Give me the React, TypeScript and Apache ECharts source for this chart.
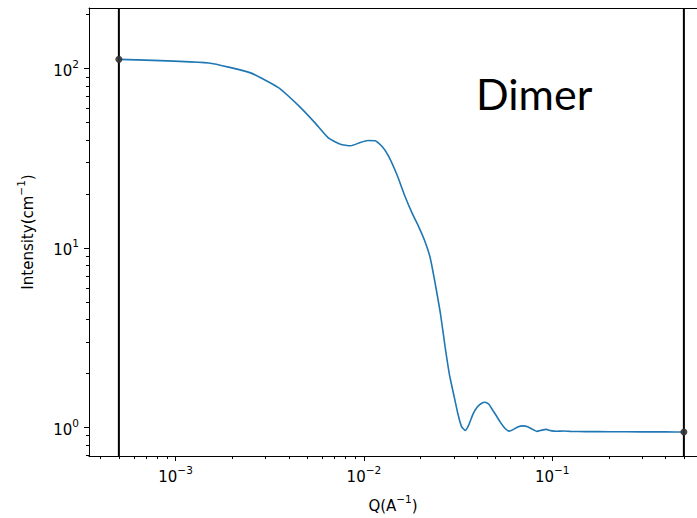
import React, { useEffect, useRef } from 'react';
import * as echarts from 'echarts';

// Scattering curve (Q in A^-1, intensity in cm^-1)
const qValues = [
  0.0005, 0.0015, 0.0025, 0.0035, 0.0045, 0.0055, 0.0065, 0.0075, 0.0085, 0.0095,
  0.0105, 0.0115, 0.0125, 0.0135, 0.015, 0.0165, 0.018, 0.0195, 0.021, 0.0225,
  0.024, 0.0255, 0.027, 0.0285, 0.03, 0.0315, 0.033, 0.0345, 0.036, 0.038,
  0.04, 0.042, 0.044, 0.046, 0.048, 0.05, 0.053, 0.056, 0.059, 0.062,
  0.066, 0.07, 0.074, 0.078, 0.083, 0.088, 0.093, 0.098, 0.105, 0.115,
  0.125, 0.15, 0.2, 0.3, 0.4, 0.5,
];
const intensity = [
  112.5, 107.4, 94.6, 78.5, 62.1, 49.8, 40.9, 37.9, 37.1, 38.6,
  39.7, 39.6, 36.8, 32.6, 25.5, 19.5, 15.7, 13.2, 11.0, 8.8,
  6.2, 4.3, 2.8, 1.95, 1.52, 1.2, 1.01, 0.962, 1.03, 1.19,
  1.3, 1.36, 1.38, 1.35, 1.26, 1.18, 1.07, 0.99, 0.954, 0.972,
  1.01, 1.02, 1.01, 0.98, 0.95, 0.966, 0.975, 0.96, 0.952, 0.955,
  0.951, 0.948, 0.946, 0.945, 0.944, 0.943,
];

// Range markers (vertical lines + end points)
const markerQ = [0.0005, 0.5];
const markerI = [112.5, 0.943];

// Axis ticks
const xMajorTicks = [0.001, 0.01, 0.1];
const xMajorLabels = ['\u22123', '\u22122', '\u22121'];
const xMinorTicks = [
  0.0004, 0.0005, 0.0006, 0.0007, 0.0008, 0.0009,
  0.002, 0.003, 0.004, 0.005, 0.006, 0.007, 0.008, 0.009,
  0.02, 0.03, 0.04, 0.05, 0.06, 0.07, 0.08, 0.09,
  0.2, 0.3, 0.4, 0.5,
];
const yMajorTicks = [1, 10, 100];
const yMajorLabels = ['0', '1', '2'];
const yMinorTicks = [
  0.7, 0.8, 0.9,
  2, 3, 4, 5, 6, 7, 8, 9,
  20, 30, 40, 50, 60, 70, 80, 90,
  200,
];

const X_MIN = 0.000347;
const X_MAX = 0.587;
const Y_MIN = 0.693;
const Y_MAX = 217.5;

const FONT = 'DejaVu Sans';

const supRich = {
  b: { fontFamily: FONT, fontSize: 15, color: '#000', lineHeight: 20, verticalAlign: 'bottom' },
  s: { fontFamily: FONT, fontSize: 10.5, color: '#000', lineHeight: 20, verticalAlign: 'top' },
};

function fmt(values: number[], labels: string[]) {
  return (v: number) => {
    let idx = -1;
    values.forEach((t, i) => {
      if (Math.abs(Math.log10(t) - Math.log10(v)) < 1e-6) idx = i;
    });
    if (idx < 0) return '';
    return '{b|10}{s|' + labels[idx] + '}';
  };
}

export default function App() {
  const ref = useRef<HTMLDivElement>(null);
  useEffect(() => {
    if (!ref.current) return;
    const chart = echarts.init(ref.current, null, { renderer: 'svg' });
    const curve = qValues.map((q, i) => [q, intensity[i]]);
    const markers = markerQ.map((q, i) => [q, markerI[i]]);
    const vLines = markerQ.map((q) => ({
      type: 'line',
      xAxisIndex: 0, yAxisIndex: 0,
      data: [[q, Y_MIN], [q, Y_MAX]],
      showSymbol: false,
      silent: true,
      lineStyle: { color: '#000', width: 2 },
      z: 2,
    }));
    chart.setOption({
      animation: false,
      backgroundColor: '#fff',
      grid: { left: 89, top: 8, right: 0, height: 450 },
      xAxis: [
        {
          type: 'log', logBase: 10, min: X_MIN, max: X_MAX, position: 'bottom',
          axisLine: { show: true, lineStyle: { color: '#000', width: 1 } },
          axisTick: { show: true, length: 5, lineStyle: { color: '#000', width: 1 }, customValues: xMajorTicks },
          axisLabel: { show: true, margin: 8, customValues: xMajorTicks, formatter: fmt(xMajorTicks, xMajorLabels), rich: supRich },
          splitLine: { show: false },
          minorTick: { show: false },
          name: '{b|Q(A}{s|\u22121}{b|)}',
          nameLocation: 'middle',
          nameGap: 37,
          nameTextStyle: { rich: supRich },
        },
        {
          type: 'log', logBase: 10, min: X_MIN, max: X_MAX, position: 'bottom',
          axisLine: { show: false },
          axisTick: { show: true, length: 3, lineStyle: { color: '#000', width: 1 }, customValues: xMinorTicks },
          axisLabel: { show: false },
          splitLine: { show: false },
        },
        {
          type: 'log', logBase: 10, min: X_MIN, max: X_MAX, position: 'top',
          axisLine: { show: true, lineStyle: { color: '#000', width: 1 } },
          axisTick: { show: false },
          axisLabel: { show: false },
          splitLine: { show: false },
        },
      ],
      yAxis: [
        {
          type: 'log', logBase: 10, min: Y_MIN, max: Y_MAX, position: 'left',
          axisLine: { show: true, lineStyle: { color: '#000', width: 1 } },
          axisTick: { show: true, length: 5, lineStyle: { color: '#000', width: 1 }, customValues: yMajorTicks },
          axisLabel: { show: true, margin: 10, customValues: yMajorTicks, formatter: fmt(yMajorTicks, yMajorLabels), rich: supRich },
          splitLine: { show: false },
          name: '{b|Intensity(cm}{s|\u22121}{b|)}',
          nameLocation: 'middle',
          nameGap: 54,
          nameTextStyle: { rich: supRich },
        },
        {
          type: 'log', logBase: 10, min: Y_MIN, max: Y_MAX, position: 'left',
          axisLine: { show: false },
          axisTick: { show: true, length: 3, lineStyle: { color: '#000', width: 1 }, customValues: yMinorTicks },
          axisLabel: { show: false },
          splitLine: { show: false },
        },
      ],
      series: [
        ...vLines,
        {
          type: 'line',
          xAxisIndex: 0, yAxisIndex: 0,
          data: curve,
          showSymbol: false,
          smooth: 0.15,
          lineStyle: { color: '#1f77b4', width: 1.6 },
          z: 3,
        },
        {
          type: 'scatter',
          xAxisIndex: 0, yAxisIndex: 0,
          data: markers,
          symbolSize: 7,
          itemStyle: { color: '#333', opacity: 0.9 },
          z: 4,
        },
      ],
      graphic: [
        {
          type: 'text',
          left: 476,
          top: 72,
          style: { text: 'Dimer', fontFamily: 'Lato', fontSize: 43, fill: '#000' },
          z: 10,
        },
      ],
    });
    return () => chart.dispose();
  }, []);
  return <div ref={ref} style={{ position: 'absolute', left: 0, top: 0, width: 697, height: 518 }} />;
}
